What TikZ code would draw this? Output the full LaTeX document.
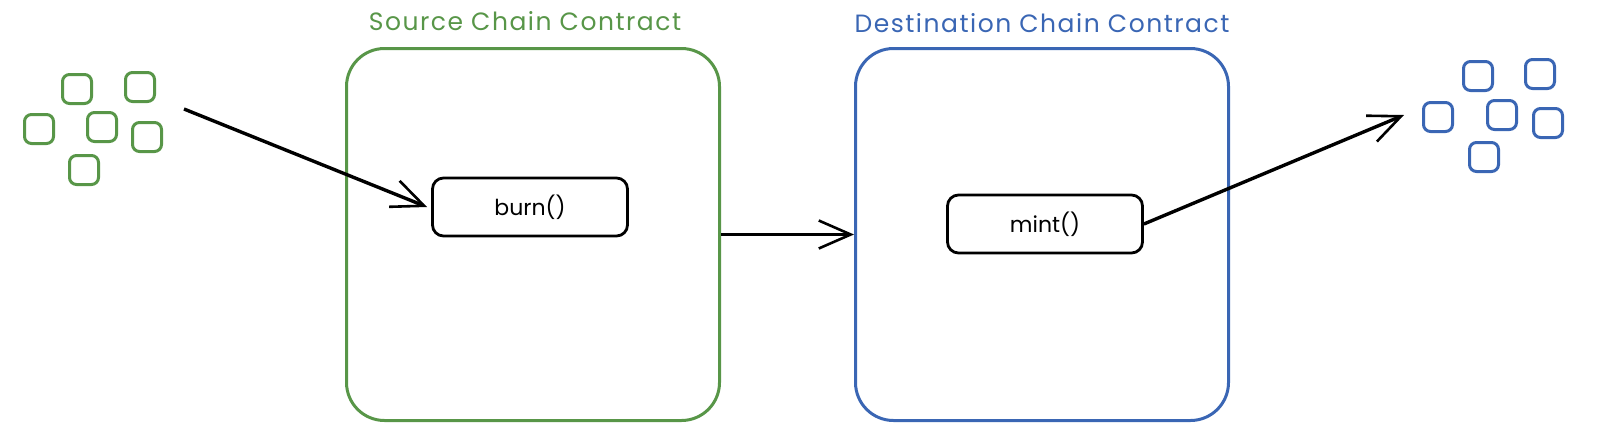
\documentclass[tikz,border=0pt]{standalone}
\usepackage{fontspec}
\setmainfont{Poppins}
\usetikzlibrary{positioning,arrows.meta}
\definecolor{srcgreen}{RGB}{88,150,72}
\definecolor{dstblue}{RGB}{58,102,180}

\begin{document}
\begin{tikzpicture}[x=1pt, y=-1pt,
    chain/.style={draw, rounded corners=38pt, line width=3pt, minimum width=373pt, minimum height=372pt},
    func/.style={draw, rounded corners=11pt, line width=2.8pt, minimum width=195pt, minimum height=58pt, font=\fontsize{22}{26}\selectfont},
    token/.style={draw, rounded corners=7pt, line width=3pt, minimum size=29pt, inner sep=0pt},
    title/.style={font=\fontsize{25}{29}\selectfont\addfontfeature{LetterSpace=6}},
    flow/.style={-{Straight Barb[length=32pt, width=28pt, line width=2.6pt]}, line width=3.4pt}]
    \useasboundingbox (0,0) rectangle (1598,440);

    \node [chain, srcgreen] (src) at (533,234.5) {};
    \node [chain, dstblue] (dst) at (1042,234.5) {};
    \node [title, srcgreen] (srclabel) at (525,21) {Source Chain Contract};
    \node [title, dstblue] (dstlabel) at (1042,23) {Destination Chain Contract};

    \node [func] (burn) at (530,207) {burn()};
    \node [func] (mint) at (1045,224) {mint()};

    % tokens on each chain
    \foreach \n/\p in {1/{(77,89)}, 2/{(140,87)}, 3/{(39,129)}, 4/{(102,127)}, 5/{(147,137)}, 6/{(84,170)}}
        \node [token, srcgreen] (gs\n) at \p {};
    \foreach \n/\p in {1/{(1478,76)}, 2/{(1540,74)}, 3/{(1438,117)}, 4/{(1502,115)}, 5/{(1548,123)}, 6/{(1484,157)}}
        \node [token, dstblue] (bs\n) at \p {};

    \coordinate (lockin) at (184,109);
    \coordinate (release) at (1404,115);

    \draw [flow] (lockin) -- ([xshift=-4pt]burn.west);
    \draw [flow] (src.east) -- (dst.west);
    \draw [flow] (mint.east) -- (release);
\end{tikzpicture}
\end{document}
